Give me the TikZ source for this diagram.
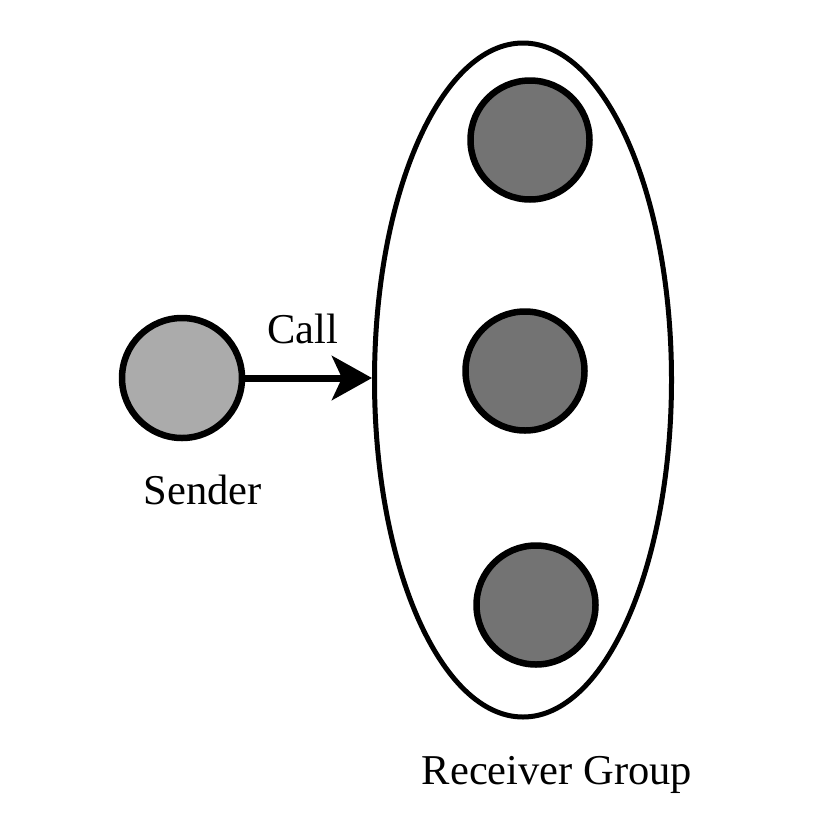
\documentclass[tikz,border=0pt]{standalone}
\usepackage{fontspec}
\setmainfont{Liberation Serif}
\usetikzlibrary{arrows.meta,shapes.geometric}
\begin{document}
\begin{tikzpicture}[x=1pt,y=-1pt,
  lbl/.style={font=\fontsize{42.5}{48}\selectfont, inner sep=0pt},
  sendercirc/.style={circle, draw=black, line width=6.5pt, fill=black!33, minimum size=120pt, inner sep=0pt},
  recvcirc/.style={circle, draw=black, line width=6.5pt, fill=black!55, minimum size=119pt, inner sep=0pt},
  grp/.style={ellipse, draw=black, line width=5pt, minimum width=297pt, minimum height=674pt, inner sep=0pt}]
\useasboundingbox (0,0) rectangle (840,814);
\node[grp] (group) at (523,380) {};
\node[recvcirc] (r1) at (530,140) {};
\node[recvcirc] (r2) at (525,371) {};
\node[recvcirc] (r3) at (536,605) {};
\node[sendercirc] (sender) at (182,378) {};
\draw[line width=7pt, -{Stealth[length=40pt,width=44pt,inset=10pt]}] (sender.east) -- (group.west |- sender.east);
\node[lbl] (call) at (303,329) {Call};
\node[lbl] (slabel) at (203,490) {Sender};
\node[lbl] (glabel) at (557,775) {Receiver Group};
\end{tikzpicture}
\end{document}
